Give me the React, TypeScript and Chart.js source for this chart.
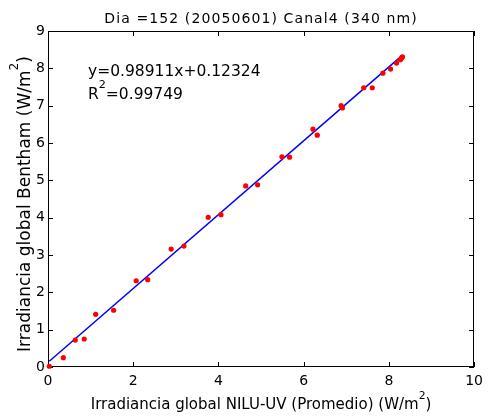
import React, { useEffect, useRef } from "react";
import { Chart, registerables } from "chart.js";

Chart.register(...registerables);

// NILU-UV (Promedio) irradiance, W/m2
const nilu = [0.03, 0.36, 0.64, 0.85, 1.12, 1.54, 2.07, 2.34, 2.89, 3.19, 3.76, 4.06, 4.64, 4.92, 5.49, 5.67, 6.22, 6.32, 6.88, 6.91, 7.41, 7.61, 7.86, 8.04, 8.18, 8.27, 8.3, 8.32];
// Bentham irradiance, W/m2
const bentham = [0.02, 0.25, 0.72, 0.75, 1.41, 1.52, 2.31, 2.34, 3.16, 3.24, 4.01, 4.08, 4.85, 4.88, 5.63, 5.62, 6.37, 6.21, 7.0, 6.94, 7.48, 7.48, 7.87, 7.98, 8.14, 8.23, 8.28, 8.31];

const slope = 0.98911;
const intercept = 0.12324;
const r2 = 0.99749;

const xTicks = [0, 2, 4, 6, 8, 10];
const yTicks = [0, 1, 2, 3, 4, 5, 6, 7, 8, 9];

const titleText = "Dia =152 (20050601) Canal4 (340 nm)";
const FONT = "'DejaVu Sans', sans-serif";

function drawSup(ctx: CanvasRenderingContext2D, parts: [string, boolean][], size: number, x: number, y: number, align: "left" | "center") {
  const supSize = size * 0.72;
  let total = 0;
  const widths = parts.map(([t, sup]) => {
    ctx.font = `${sup ? supSize : size}px ${FONT}`;
    const w = ctx.measureText(t).width;
    total += w;
    return w;
  });
  let cx = align === "center" ? x - total / 2 : x;
  ctx.textAlign = "left";
  ctx.textBaseline = "alphabetic";
  parts.forEach(([t, sup], i) => {
    ctx.font = `${sup ? supSize : size}px ${FONT}`;
    ctx.fillText(t, cx, sup ? y - size * 0.7 : y);
    cx += widths[i];
  });
}

const framePlugin = {
  id: "frame",
  beforeDatasetsDraw(chart: any) {
    const { ctx, chartArea: a, scales } = chart;
    const xs = scales.x;
    const ys = scales.y;
    ctx.save();
    ctx.strokeStyle = "#000";
    ctx.lineWidth = 1;
    ctx.strokeRect(Math.round(a.left) + 0.5, Math.round(a.top) + 0.5, Math.round(a.width) - 1, Math.round(a.height) - 1);
    const tl = 5;
    ctx.beginPath();
    xTicks.forEach((v) => {
      const px = Math.round(xs.getPixelForValue(v)) + 0.5;
      ctx.moveTo(px, a.bottom);
      ctx.lineTo(px, a.bottom - tl);
      ctx.moveTo(px, a.top);
      ctx.lineTo(px, a.top + tl);
    });
    yTicks.forEach((v) => {
      const py = Math.round(ys.getPixelForValue(v)) + 0.5;
      ctx.moveTo(a.left, py);
      ctx.lineTo(a.left + tl, py);
      ctx.moveTo(a.right, py);
      ctx.lineTo(a.right - tl, py);
    });
    ctx.stroke();
    ctx.restore();
  },
  afterDraw(chart: any) {
    const { ctx, chartArea: a } = chart;
    ctx.save();
    ctx.fillStyle = "#000";
    const cx = (a.left + a.right) / 2;
    // title
    ctx.font = `14px ${FONT}`;
    (ctx as any).letterSpacing = "1.1px";
    ctx.textAlign = "center";
    ctx.textBaseline = "alphabetic";
    ctx.fillText(titleText, cx, 23);
    (ctx as any).letterSpacing = "0px";
    // x label
    drawSup(ctx, [["Irradiancia global NILU-UV (Promedio) (W/m", false], ["2", true], [")", false]], 15, cx, 409, "center");
    // y label
    ctx.save();
    ctx.translate(29.5, 204);
    ctx.rotate(-Math.PI / 2);
    drawSup(ctx, [["Irradiancia global Bentham (W/m", false], ["2", true], [")", false]], 17, 0, 0, "center");
    ctx.restore();
    // annotation
    const sign = intercept >= 0 ? "+" : "-";
    drawSup(ctx, [[`y=${slope}x${sign}${Math.abs(intercept)}`, false]], 15.5, 88, 76, "left");
    drawSup(ctx, [["R", false], ["2", true], [`=${r2}`, false]], 15.5, 88, 99, "left");
    ctx.restore();
  },
};

export default function App() {
  const ref = useRef<HTMLCanvasElement | null>(null);
  useEffect(() => {
    document.body.style.margin = "0";
    const canvas = ref.current!;
    const xMin = Math.min(...nilu);
    const xMax = Math.max(...nilu);
    const chart = new Chart(canvas, {
      type: "scatter",
      data: {
        datasets: [
          {
            label: "fit",
            type: "line",
            data: [
              { x: xMin, y: slope * xMin + intercept },
              { x: xMax, y: slope * xMax + intercept },
            ],
            borderColor: "#0000ff",
            borderWidth: 1.5,
            pointRadius: 0,
            fill: false,
            order: 2,
          },
          {
            label: "data",
            data: nilu.map((x, i) => ({ x, y: bentham[i] })),
            backgroundColor: "#ff0000",
            borderColor: "#ff0000",
            borderWidth: 0,
            pointRadius: 2.6,
            order: 1,
          },
        ],
      },
      options: {
        responsive: false,
        animation: false,
        clip: false,
        layout: { padding: { top: 31, right: 12, left: 0, bottom: 0 } },
        plugins: { legend: { display: false }, tooltip: { enabled: false }, title: { display: false } },
        scales: {
          x: {
            type: "linear",
            min: 0,
            max: 10,
            afterFit: (s: any) => { s.height = 49; },
            afterBuildTicks: (s: any) => { s.ticks = xTicks.map((v) => ({ value: v })); },
            grid: { display: false, drawTicks: false },
            border: { display: false },
            ticks: { padding: 6, color: "#000", font: { family: FONT, size: 14 } },
          },
          y: {
            type: "linear",
            min: 0,
            max: 9,
            afterFit: (s: any) => { s.width = 48; },
            afterBuildTicks: (s: any) => { s.ticks = yTicks.map((v) => ({ value: v })); },
            grid: { display: false, drawTicks: false },
            border: { display: false },
            ticks: { padding: 3, color: "#000", font: { family: FONT, size: 14 } },
          },
        },
      },
      plugins: [framePlugin],
    } as any);
    return () => chart.destroy();
  }, []);
  return <canvas ref={ref} width={489} height={416} style={{ display: "block" }} />;
}
